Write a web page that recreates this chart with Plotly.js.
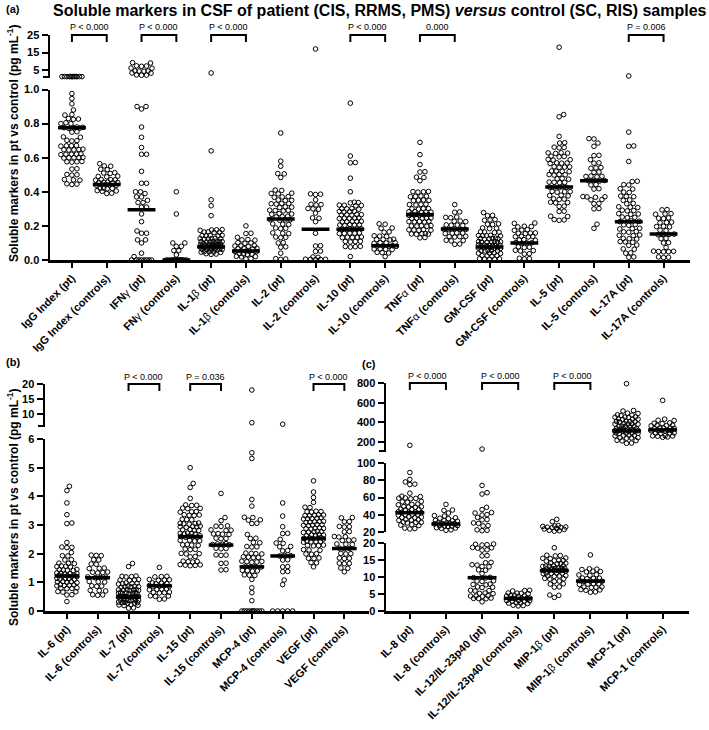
<!DOCTYPE html>
<html><head><meta charset="utf-8">
<script src="https://cdn.plot.ly/plotly-3.0.1.min.js"></script>
<style>body{margin:0;background:#fff}</style>
</head><body><div id="chart" style="width:709px;height:730px"></div>
<script>
const G = s => "<span style='font-weight:normal'>" + s + "</span>";
// ---------------- Panel (a) ----------------
const catsA = ["IgG Index (pt)","IgG Index (controls)","IFN"+G("γ")+" (pt)","FN"+G("γ")+" (controls)","IL-1"+G("β")+" (pt)","IL-1"+G("β")+" (controls)","IL-2 (pt)","IL-2 (controls)","IL-10 (pt)","IL-10 (controls)","TNF"+G("α")+" (pt)","TNF"+G("α")+" (controls)","GM-CSF (pt)","GM-CSF (controls)","IL-5 (pt)","IL-5 (controls)","IL-17A (pt)","IL-17A (controls)"];
const igg_pt = [1.25,1.2,1.3,1.15,1.22,1.28,1.18,1.24,1.32,1.2,1.26,1.14,0.976,0.947,0.916,0.88,0.853,0.85,0.827,0.83,0.825,0.80,0.80,0.805,0.776,0.778,0.774,0.776,0.78,0.772,0.75,0.752,0.72,0.722,0.70,0.702,0.698,0.67,0.672,0.668,0.67,0.647,0.645,0.65,0.648,0.646,0.62,0.622,0.618,0.62,0.621,0.60,0.602,0.598,0.60,0.601,0.576,0.578,0.574,0.576,0.533,0.535,0.50,0.502,0.498,0.47,0.472,0.468,0.445,0.447,0.443];
const igg_ctrl = [0.565,0.55,0.552,0.53,0.532,0.51,0.512,0.508,0.49,0.492,0.488,0.47,0.472,0.468,0.471,0.455,0.457,0.453,0.456,0.454,0.44,0.442,0.438,0.441,0.439,0.42,0.422,0.418,0.421,0.405,0.407,0.403,0.39,0.392];
const ifn_pt = [9.2,9.0,7.3,7.1,7.4,6.1,6.0,4.4,4.5,4.3,4.4,3.3,3.2,2.1,2.2,2.0,0.9,0.9,0.886,0.78,0.72,0.66,0.62,0.62,0.52,0.45,0.45,0.40,0.40,0.39,0.37,0.37,0.35,0.337,0.337,0.31,0.31,0.27,0.225,0.17,0.157,0.157,0.118,0.118,0.1,0.04,0.02,0,0,0,0,0,0,0,0];
const fn_ctrl = [0.40,0.27,0.10,0.10,0.08,0.08,0.055,0.055,0.03,0,0,0,0,0,0,0,0,0,0,0,0,0,0];
const il1b_pt = [3.3,0.64,0.353,0.318,0.26,0.176,0.178,0.174,0.177,0.163,0.165,0.161,0.164,0.143,0.145,0.141,0.144,0.142,0.125,0.127,0.123,0.126,0.124,0.125,0.108,0.11,0.106,0.109,0.107,0.108,0.105,0.092,0.094,0.09,0.093,0.091,0.092,0.095,0.089,0.078,0.08,0.076,0.079,0.077,0.078,0.081,0.075,0.079,0.077,0.063,0.065,0.061,0.064,0.062,0.063,0.066,0.06,0.047,0.049,0.045,0.048,0.046,0.035,0.037,0.033];
const il1b_ctrl = [0.2,0.157,0.155,0.133,0.118,0.12,0.116,0.1,0.102,0.098,0.082,0.084,0.08,0.083,0.067,0.069,0.065,0.068,0.051,0.053,0.049,0.052,0.05,0.035,0.037,0.033,0.036,0.02,0.022,0.018,0.008,0.006];
const il2_pt = [0.745,0.58,0.55,0.505,0.507,0.484,0.408,0.41,0.39,0.392,0.388,0.37,0.372,0.368,0.35,0.352,0.348,0.33,0.332,0.328,0.331,0.31,0.312,0.308,0.29,0.292,0.288,0.291,0.27,0.272,0.268,0.255,0.257,0.253,0.235,0.237,0.233,0.236,0.21,0.212,0.208,0.186,0.188,0.184,0.157,0.159,0.155,0.133,0.135,0.131,0.1,0.102,0.075,0.077,0.04,0.008,0.006,0.004];
const il2_ctrl = [17,0.386,0.388,0.384,0.353,0.325,0.327,0.323,0.30,0.302,0.298,0.275,0.245,0.247,0.225,0.157,0.082,0.084,0.05,0.052,0.016,0.018,0.004,0.003,0.005,0.002,0.004];
const il10_pt = [0.92,0.61,0.57,0.572,0.48,0.40,0.337,0.339,0.335,0.32,0.322,0.318,0.321,0.30,0.302,0.298,0.301,0.284,0.286,0.282,0.285,0.265,0.267,0.263,0.266,0.264,0.245,0.247,0.243,0.246,0.244,0.225,0.227,0.223,0.226,0.224,0.206,0.208,0.204,0.207,0.205,0.18,0.182,0.178,0.181,0.179,0.183,0.157,0.159,0.155,0.158,0.156,0.133,0.135,0.131,0.134,0.132,0.108,0.11,0.106,0.109,0.078,0.08,0.076,0.079,0.02];
const il10_ctrl = [0.21,0.212,0.186,0.188,0.163,0.165,0.14,0.142,0.138,0.12,0.122,0.118,0.121,0.1,0.102,0.098,0.101,0.082,0.084,0.08,0.083,0.081,0.063,0.065,0.061,0.064,0.043,0.045,0.041,0.02];
const tnf_pt = [0.69,0.618,0.56,0.516,0.518,0.484,0.486,0.465,0.40,0.402,0.398,0.401,0.373,0.375,0.371,0.374,0.35,0.352,0.348,0.351,0.325,0.327,0.323,0.326,0.30,0.302,0.298,0.301,0.282,0.284,0.28,0.283,0.281,0.265,0.267,0.263,0.266,0.264,0.268,0.262,0.245,0.247,0.243,0.246,0.244,0.225,0.227,0.223,0.226,0.224,0.2,0.202,0.198,0.201,0.199,0.176,0.178,0.174,0.177,0.175,0.153,0.155,0.151,0.154,0.152,0.13,0.132];
const tnf_ctrl = [0.325,0.28,0.282,0.25,0.252,0.248,0.227,0.229,0.225,0.204,0.206,0.202,0.205,0.18,0.182,0.178,0.181,0.179,0.157,0.159,0.155,0.158,0.137,0.139,0.135,0.138,0.114,0.116,0.112,0.092,0.094];
const gm_pt = [0.278,0.26,0.262,0.235,0.237,0.233,0.21,0.212,0.208,0.186,0.188,0.184,0.163,0.165,0.161,0.164,0.143,0.145,0.141,0.144,0.142,0.125,0.127,0.123,0.126,0.124,0.128,0.106,0.108,0.104,0.107,0.105,0.109,0.103,0.086,0.088,0.084,0.087,0.085,0.089,0.083,0.086,0.07,0.072,0.068,0.071,0.069,0.073,0.055,0.057,0.053,0.056,0.054,0.04,0.042,0.038,0.041,0.024,0.026,0.022,0.025,0.008,0.006,0.004,0.007,0.005];
const gm_ctrl = [0.215,0.217,0.196,0.198,0.194,0.176,0.178,0.174,0.157,0.159,0.155,0.158,0.137,0.139,0.135,0.138,0.118,0.12,0.116,0.1,0.102,0.098,0.101,0.075,0.077,0.073,0.055,0.057,0.053,0.035,0.037,0.01,0.008,0.006];
const il5_pt = [18,0.853,0.84,0.725,0.686,0.688,0.66,0.662,0.658,0.627,0.629,0.625,0.628,0.607,0.609,0.605,0.588,0.59,0.586,0.568,0.57,0.566,0.569,0.545,0.547,0.543,0.546,0.52,0.522,0.518,0.521,0.50,0.502,0.498,0.501,0.476,0.478,0.474,0.455,0.457,0.453,0.456,0.427,0.429,0.425,0.428,0.426,0.40,0.402,0.398,0.401,0.378,0.38,0.376,0.357,0.359,0.355,0.337,0.339,0.335,0.314,0.316,0.284,0.286,0.255,0.257,0.235,0.237,0.233];
const il5_ctrl = [0.71,0.712,0.686,0.667,0.612,0.614,0.588,0.568,0.57,0.54,0.542,0.538,0.514,0.516,0.49,0.492,0.488,0.491,0.465,0.467,0.463,0.466,0.44,0.442,0.416,0.418,0.37,0.372,0.368,0.371,0.353,0.355,0.33,0.332,0.30,0.302,0.21,0.186];
const il17_pt = [1.6,0.75,0.667,0.669,0.578,0.46,0.462,0.44,0.442,0.416,0.418,0.396,0.398,0.373,0.375,0.371,0.35,0.352,0.33,0.332,0.31,0.312,0.308,0.29,0.292,0.288,0.27,0.272,0.268,0.25,0.252,0.248,0.227,0.229,0.225,0.206,0.208,0.204,0.184,0.186,0.182,0.165,0.167,0.163,0.145,0.147,0.143,0.125,0.127,0.123,0.106,0.108,0.104,0.086,0.088,0.063,0.065,0.04,0.042,0.016,0.018];
const il17_ctrl = [0.294,0.296,0.27,0.272,0.268,0.245,0.247,0.243,0.22,0.222,0.218,0.196,0.198,0.194,0.173,0.175,0.15,0.152,0.148,0.151,0.125,0.127,0.1,0.102,0.073,0.05,0.052,0.048,0.051,0.049,0.016,0.018,0.014];
const medA = [0.776,0.443,0.294,0,0.078,0.053,0.24,0.18,0.18,0.084,0.265,0.182,0.076,0.1,0.428,0.465,0.225,0.152];
const pairsA = [[0,"P < 0.000"],[2,"P < 0.000"],[4,"P < 0.000"],[8,"P < 0.000"],[10,"0.000"],[16,"P = 0.006"]];

// ---------------- Panel (b) ----------------
const catsB = ["IL-6 (pt)","IL-6 (controls)","IL-7 (pt)","IL-7 (controls)","IL-15 (pt)","IL-15 (controls)","MCP-4 (pt)","MCP-4 (controls)","VEGF (pt)","VEGF (controls)"];
const il6_pt = [4.35,4.2,3.77,3.36,3.07,3.05,2.39,2.22,2.21,2.23,2.04,1.92,1.93,1.78,1.79,1.66,1.65,1.67,1.55,1.56,1.54,1.57,1.43,1.44,1.42,1.45,1.41,1.31,1.32,1.3,1.33,1.29,1.22,1.23,1.21,1.24,1.2,1.25,1.12,1.13,1.11,1.14,1.1,1.01,1.02,1.0,1.03,0.99,0.9,0.91,0.89,0.92,0.88,0.79,0.8,0.78,0.81,0.67,0.68,0.66,0.56,0.57,0.33];
const il6_ctrl = [1.95,1.93,1.94,1.78,1.79,1.63,1.64,1.49,1.5,1.48,1.34,1.35,1.33,1.36,1.17,1.18,1.16,1.19,1.02,1.03,1.01,0.87,0.88,0.86,0.71,0.72,0.7,0.56,0.57,0.55];
const il7_pt = [1.66,1.55,1.2,1.21,1.19,1.22,1.08,1.09,1.07,1.1,0.96,0.97,0.95,0.98,0.94,0.85,0.86,0.84,0.87,0.83,0.85,0.73,0.74,0.72,0.75,0.71,0.73,0.74,0.62,0.63,0.61,0.64,0.6,0.62,0.63,0.61,0.5,0.51,0.49,0.52,0.48,0.5,0.51,0.49,0.52,0.48,0.38,0.39,0.37,0.4,0.36,0.38,0.39,0.37,0.29,0.3,0.28,0.31,0.27,0.29,0.2,0.21,0.19,0.22,0.1,0.11];
const il7_ctrl = [1.52,1.2,1.21,1.19,1.08,1.09,1.07,1.1,0.96,0.97,0.95,0.98,0.87,0.88,0.86,0.89,0.85,0.75,0.76,0.74,0.77,0.64,0.65,0.63,0.66,0.52,0.53,0.51,0.41,0.42];
const il15_pt = [5.0,4.45,4.31,3.93,3.69,3.7,3.68,3.58,3.59,3.57,3.46,3.47,3.45,3.34,3.35,3.33,3.36,3.19,3.2,3.18,3.05,3.06,3.04,3.07,3.03,2.94,2.95,2.93,2.96,2.92,2.82,2.83,2.81,2.84,2.7,2.71,2.69,2.72,2.68,2.59,2.6,2.58,2.61,2.57,2.62,2.45,2.46,2.44,2.47,2.3,2.31,2.29,2.32,2.15,2.16,2.14,2.0,2.01,1.99,1.89,1.9,1.72,1.73,1.71,1.74,1.6,1.61,1.59,1.62,1.58];
const il15_ctrl = [4.1,3.26,3.15,2.96,2.97,2.95,2.82,2.83,2.81,2.68,2.69,2.67,2.7,2.53,2.54,2.52,2.33,2.34,2.32,2.35,2.31,2.18,2.19,2.17,1.95,1.96,1.94,1.66,1.67,1.43,1.44];
const mcp4_pt = [18,7.1,5.52,5.32,3.89,3.66,3.26,3.27,3.17,3.18,3.05,3.06,2.67,2.53,2.54,2.38,2.39,2.24,2.25,2.23,2.0,2.01,1.99,2.02,1.87,1.88,1.86,1.89,1.72,1.73,1.71,1.74,1.7,1.54,1.55,1.53,1.56,1.4,1.41,1.39,1.42,1.25,1.26,1.24,1.1,0.81,0.64,0.36,0,0,0,0,0,0,0,0,0,0];
const mcp4_ctrl = [6.6,3.77,3.31,2.94,2.7,2.71,2.5,2.36,2.37,2.24,2.25,2.1,2.11,1.93,1.94,1.92,1.78,1.79,1.54,1.55,1.37,1.38,1.08,0.92,0,0,0,0,0];
const vegf_pt = [4.54,4.15,3.96,3.79,3.61,3.62,3.46,3.47,3.45,3.48,3.34,3.35,3.33,3.36,3.32,3.23,3.24,3.22,3.25,3.21,3.11,3.12,3.1,3.13,3.09,3.0,3.01,2.99,3.02,2.98,2.88,2.89,2.87,2.9,2.86,2.76,2.77,2.75,2.78,2.74,2.65,2.66,2.64,2.67,2.63,2.53,2.54,2.52,2.55,2.51,2.56,2.42,2.43,2.41,2.44,2.4,2.28,2.29,2.27,2.3,2.13,2.14,2.12,1.99,2.0,1.98,1.84,1.85,1.83,1.68,1.69,1.54];
const vegf_ctrl = [3.25,3.26,3.11,3.12,2.94,2.95,2.93,2.76,2.77,2.59,2.6,2.58,2.47,2.48,2.46,2.33,2.34,2.32,2.18,2.19,2.17,2.0,2.01,1.99,1.84,1.85,1.83,1.66,1.67,1.65,1.49,1.5,1.37];
const medB = [1.22,1.16,0.49,0.88,2.59,2.3,1.54,1.92,2.53,2.18];
const pairsB = [[2,"P < 0.000"],[4,"P = 0.036"],[8,"P < 0.000"]];

// ---------------- Panel (c) ----------------
const catsC = ["IL-8 (pt)","IL-8 (controls)","IL-12/IL-23p40 (pt)","IL-12/IL-23p40 (controls)","MIP-1"+G("β")+" (pt)","MIP-1"+G("β")+" (controls)","MCP-1 (pt)","MCP-1 (controls)"];
const il8_pt = [166,89,81,78,75,75.5,65,61,61.5,59,59.5,58.5,59.2,55,55.5,54.5,52,52.5,51.5,49,49.5,48.5,49.2,46,46.5,45.5,46.2,43,43.5,42.5,43.2,42.8,40,40.5,39.5,40.2,37,37.5,36.5,37.2,34,34.5,33.5,34.2,31,31.5,30.5,31.2,28,28.5,27.5,24,24.5,23.5];
const il8_ctrl = [52,45,45.5,42,38.5,39,36,36.5,35.5,33,33.5,32.5,33.2,30,30.5,29.5,30.2,29.8,30.4,27,27.5,26.5,27.2,26.8,24.6,25,24.2,22,22.5];
const il12_pt = [128,74,64,65.6,48.6,46,42,42.5,39.7,40.2,37,34,34.5,30,30.5,27,27.5,22,22.5,21.5,19.5,19.6,19.4,19.7,18.6,18.7,18.5,17.9,18,16.2,16.3,14.2,14.3,13.5,13.6,13,13.1,12,12.1,11,9.8,9.9,9.7,8.8,8.9,8.7,7.8,7.9,7.7,7,7.1,6.9,6,6.1,5.9,5.2,5.3,5.1,4.4,4.5,4.3,4.4,3.7,3.8,3.6,3.7,2.7];
const il12_ctrl = [6,6.1,5.9,5.2,5.3,5.1,5.25,4.4,4.5,4.3,4.4,4.45,3.7,3.8,3.6,3.75,3.65,3.7,3.0,3.1,2.9,3.05,2.95,2.3,2.4,2.2,2.35,1.6,1.7,1.5];
const mip_pt = [34.7,32,27,27.5,26.5,25.4,25.8,25,25.6,23.5,24,23,21.5,22,21,18.6,16.3,16.4,16.2,15.5,15.6,15.4,14.8,14.9,14.7,14.85,14,14.1,13.9,14.05,13.2,13.3,13.1,13.25,13.15,12.5,12.6,12.4,12.55,12.45,12.5,11.9,12,11.8,11.95,11.85,11.9,11.92,11.1,11.2,11,11.15,11.05,10.3,10.4,10.2,10.35,9.5,9.6,9.4,8.7,8.8,7.9,8,7,7.1,4.6,4.7,4];
const mip_ctrl = [16.5,12.3,12.4,12.2,11.6,11.7,11.5,10.6,10.7,10.5,9.6,9.7,9.5,9.65,8.8,8.9,8.7,8.85,8.75,7.9,8,7.8,7.95,7,7.1,6.9,7.05,6.2,6.3,6.1,5.5,5.6];
const mcp1_pt = [793,520,515,493,490,473,470,476,452,455,449,453,432,435,429,433,408,411,405,409,406,384,387,381,385,382,357,360,354,358,355,333,336,330,334,331,335,313,316,310,314,311,315,312,289,292,286,290,287,265,268,262,266,241,244,238,242,214,217,211,186,189];
const mcp1_ctrl = [623,432,418,421,391,394,388,367,370,364,368,340,343,337,341,338,316,319,313,317,314,318,289,292,286,290,261,264,258,262,248,251];
const medC = [42.4,29.3,9.8,3.7,11.9,8.8,313,323];
const pairsC = [[0,"P < 0.000"],[2,"P < 0.000"],[4,"P < 0.000"]];

// ---------------- layout helpers ----------------
const W = 709, H = 730;
const FONT = "Liberation Sans, Arial, Helvetica, sans-serif";
const fx = p => p / W, fy = p => 1 - p / H;

const panels = [
  { xa: "x", xk: "xaxis", x0: 50, x1: 690, r: [-0.63, 17.76], cats: catsA, meds: medA, pairs: pairsA,
    br: [35, 42, 27],
    groups: [igg_pt, igg_ctrl, ifn_pt, fn_ctrl, il1b_pt, il1b_ctrl, il2_pt, il2_ctrl, il10_pt, il10_ctrl, tnf_pt, tnf_ctrl, gm_pt, gm_ctrl, il5_pt, il5_ctrl, il17_pt, il17_ctrl],
    segs: [
      { ya: "y", yk: "yaxis", top: 89.5, bot: 260, r: [0, 1], tv: [0, 0.2, 0.4, 0.6, 0.8, 1.0], tt: ["0.0","0.2","0.4","0.6","0.8","1.0"], max: 1.0 },
      { ya: "y2", yk: "yaxis2", top: 35, bot: 77, r: [1, 25], tv: [5, 15, 25], tt: ["5", "15", "25"], max: Infinity, endTick: true } ] },
  { xa: "x2", xk: "xaxis2", x0: 45, x1: 369, r: [-0.71, 9.8], cats: catsB, meds: medB, pairs: pairsB,
    br: [384, 391, 377],
    groups: [il6_pt, il6_ctrl, il7_pt, il7_ctrl, il15_pt, il15_ctrl, mcp4_pt, mcp4_ctrl, vegf_pt, vegf_ctrl],
    segs: [
      { ya: "y3", yk: "yaxis3", top: 439, bot: 611, r: [0, 6], tv: [0,1,2,3,4,5,6], tt: ["0","1","2","3","4","5","6"], max: 6 },
      { ya: "y4", yk: "yaxis4", top: 384, bot: 426, r: [6, 20], tv: [10, 15, 20], tt: ["10", "15", "20"], max: Infinity, endTick: true } ] },
  { xa: "x3", xk: "xaxis3", x0: 386, x1: 689, r: [-0.66, 7.73], cats: catsC, meds: medC, pairs: pairsC,
    br: [383, 390, 376],
    groups: [il8_pt, il8_ctrl, il12_pt, il12_ctrl, mip_pt, mip_ctrl, mcp1_pt, mcp1_ctrl],
    segs: [
      { ya: "y5", yk: "yaxis5", top: 543, bot: 611, r: [0, 20], tv: [0,5,10,15,20], tt: ["0","5","10","15","20"], max: 19.999 },
      { ya: "y6", yk: "yaxis6", top: 463, bot: 532, r: [20, 100], tv: [20,40,60,80,100], tt: ["20","40","60","80","100"], max: 100 },
      { ya: "y7", yk: "yaxis7", top: 383, bot: 451, r: [108, 800], tv: [200,400,600,800], tt: ["200","400","600","800"], max: Infinity, endTick: true } ] }
];

const traces = [];
const layout = {
  width: W, height: H, margin: { l: 0, r: 0, t: 0, b: 0 },
  paper_bgcolor: "#fff", plot_bgcolor: "rgba(0,0,0,0)", showlegend: false,
  font: { family: FONT, color: "#000" }, shapes: [], annotations: [], hovermode: false
};

const axLine = { showline: true, linecolor: "#000", linewidth: 2.5, ticks: "outside", tickcolor: "#000",
  tickwidth: 2, showgrid: false, zeroline: false, fixedrange: true };

panels.forEach(P => {
  const pxPerCat = (P.x1 - P.x0) / (P.r[1] - P.r[0]);
  layout[P.xk] = Object.assign({}, axLine, {
    domain: [fx(P.x0), fx(P.x1)], range: P.r, anchor: P.segs[0].ya,
    tickmode: "array", tickvals: P.cats.map((c, i) => i), ticktext: P.cats,
    tickangle: -45, ticklen: 5, tickfont: { family: FONT, size: 11, weight: "bold", color: "#000" }
  });
  P.segs.forEach(s => {
    layout[s.yk] = Object.assign({}, axLine, {
      domain: [fy(s.bot), fy(s.top)], range: s.r, anchor: P.xa,
      tickmode: "array", tickvals: s.tv, ticktext: s.tt, ticklen: 6,
      tickfont: { family: FONT, size: 11, weight: "bold", color: "#000" }
    });
    if (s.endTick) {
      layout.shapes.push({ type: "line", xref: "paper", yref: "paper",
        x0: fx(P.x0 - 7), x1: fx(P.x0), y0: fy(s.bot), y1: fy(s.bot), line: { color: "#000", width: 2 } });
    }
  });
  const segOf = v => P.segs.find(s => v <= s.max);
  const pyOf = (v, s) => s.bot - (v - s.r[0]) / (s.r[1] - s.r[0]) * (s.bot - s.top);
  const d = 4.8, cap = 0.33 * pxPerCat;
  P.groups.forEach((vals, gi) => {
    const pts = vals.map(v => { const s = segOf(v); return { v, s, py: pyOf(v, s) }; });
    pts.sort((a, b) => b.py - a.py);
    const placed = [];
    const nK = Math.floor(cap / 0.5) * 2;
    pts.forEach(p => {
      let best = 0, bestScore = -1;
      for (let k = 0; k <= nK; k++) {
        const off = k === 0 ? 0 : (k % 2 === 1 ? 1 : -1) * Math.ceil(k / 2) * 0.5;
        let md = Infinity;
        for (const q of placed) {
          const dy = q.py - p.py;
          if (Math.abs(dy) >= d) continue;
          const dx = q.off - off;
          const dist = Math.sqrt(dx * dx + dy * dy);
          if (dist < md) md = dist;
        }
        if (md >= d) { best = off; bestScore = Infinity; break; }
        if (md > bestScore) { bestScore = md; best = off; }
      }
      p.off = best; placed.push(p);
    });
    P.segs.forEach(s => {
      const sp = pts.filter(p => p.s === s);
      if (!sp.length) return;
      traces.push({ type: "scatter", mode: "markers", xaxis: P.xa, yaxis: s.ya, cliponaxis: false,
        x: sp.map(p => gi + p.off / pxPerCat), y: sp.map(p => p.v),
        marker: { symbol: "circle-open", size: 4.6, color: "#000", line: { width: 1, color: "#000" } } });
    });
    const m = P.meds[gi], ms = segOf(m);
    traces.push({ type: "scatter", mode: "lines", xaxis: P.xa, yaxis: ms.ya, cliponaxis: false,
      x: [gi - 0.4, gi + 0.4], y: [m, m], line: { color: "#000", width: 3.5 } });
  });
  P.pairs.forEach(([i, txt]) => {
    const y0 = fy(P.br[0]), y1 = fy(P.br[1]);
    layout.shapes.push({ type: "path", xref: P.xa, yref: "paper",
      path: `M ${i},${y1} L ${i},${y0} L ${i + 1},${y0} L ${i + 1},${y1}`,
      line: { color: "#000", width: 2 } });
    layout.annotations.push({ xref: P.xa, yref: "paper", x: i + 0.5, y: fy(P.br[2]), text: txt,
      showarrow: false, xanchor: "center", yanchor: "middle", font: { family: FONT, size: 9, color: "#000" } });
  });
});

const ann = (x, y, text, opts) => layout.annotations.push(Object.assign({ xref: "paper", yref: "paper",
  x: fx(x), y: fy(y), text, showarrow: false }, opts));
ann(380, 10, "Soluble markers in CSF of patient (CIS, RRMS, PMS) <i>versus</i> control (SC, RIS) samples",
  { xanchor: "center", yanchor: "middle", font: { family: FONT, size: 16, weight: "bold", color: "#000" } });
ann(4, 9, "(a)", { xanchor: "left", yanchor: "middle", font: { family: FONT, size: 11, weight: "bold", color: "#000" } });
ann(4, 362, "(b)", { xanchor: "left", yanchor: "middle", font: { family: FONT, size: 11, weight: "bold", color: "#000" } });
ann(360, 364, "(c)", { xanchor: "left", yanchor: "middle", font: { family: FONT, size: 11, weight: "bold", color: "#000" } });
const yt = "Soluble markers in pt vs control (pg mL<sup>-1</sup>)";
ann(13, 143, yt, { textangle: -90, xanchor: "center", yanchor: "middle", font: { family: FONT, size: 12, weight: "bold", color: "#000" } });
ann(13, 507, yt, { textangle: -90, xanchor: "center", yanchor: "middle", font: { family: FONT, size: 12, weight: "bold", color: "#000" } });

Plotly.newPlot("chart", traces, layout, { staticPlot: true, displayModeBar: false });
</script></body></html>
